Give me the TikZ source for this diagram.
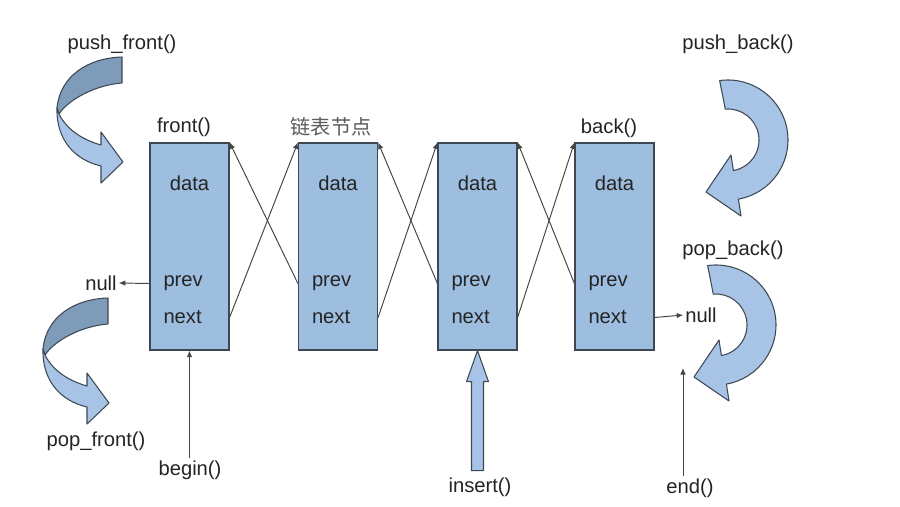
\documentclass[tikz,border=0pt]{standalone}
\usepackage{fontspec}
\setmainfont{Liberation Sans}
\newfontfamily\cjkfont{Noto Sans CJK SC}
\usepackage{tikz}
\usetikzlibrary{arrows.meta,positioning,calc}
\definecolor{cellblue}{HTML}{9EBEE0}
\definecolor{celledge}{HTML}{3E4853}
\definecolor{swooplight}{HTML}{A7C4E6}
\definecolor{swoopdark}{HTML}{7E9BB9}
\definecolor{inkgray}{HTML}{242424}
\tikzset{cell/.style={draw=celledge,line width=0.7pt,fill=cellblue,minimum width=1.58cm,minimum height=4.14cm,inner sep=0pt},
  lbl/.style={text=inkgray,font=\fontsize{11.5}{13}\selectfont,inner sep=1pt},
  ptr/.style={-{Latex[length=1.3mm,width=1.1mm]},draw=inkgray!85,line width=0.55pt},
  swoop/.style={draw=celledge,line width=0.6pt,line join=round}}

\begin{document}
\begin{tikzpicture}[x=0.02cm,y=-0.02cm]
\path[use as bounding box,fill=white] (0,0) rectangle (900,507);
% list nodes
\foreach \i/\cx in {1/189.5,2/338,3/477.5,4/614.5} {
 \node[cell] (b\i) at (\cx,246.5) {};
 \node[lbl] (d\i) at (\cx,183) {data};
 \node[lbl,anchor=west] (p\i) at ($(b\i.west)+(12,37)$) {prev};
 \node[lbl,anchor=west] (n\i) at ($(b\i.west)+(12,71)$) {next};}
\foreach \i/\j in {1/2,2/3,3/4} {
 \draw[ptr] (b\i.east |- n\i) -- (b\j.north west);
 \draw[ptr] (b\j.west |- p\j) -- (b\i.north east);}
\node[lbl] (front) at (184,127) {front()};
\node[lbl,font=\cjkfont\fontsize{11.5}{13}\selectfont,text=inkgray!75] (cellname) at (331,127) {链表节点};
\node[lbl] (back) at (609,128) {back()};
% ends
\node[lbl] (nullL) at (101,283) {null};
\node[lbl] (nullR) at (701,315) {null};
\draw[ptr] (b1.west |- p1) -- (nullL.east);
\draw[ptr] (b4.east |- n4) -- (nullR.west);
\node[lbl] (begin) at (190,470) {begin()};
\draw[ptr] (b1.south |- begin.north) -- (b1.south);
\node[lbl] (end) at (690,488) {end()};
\coordinate (endtip) at (683,368);
\draw[ptr] (endtip |- end.north) -- (endtip);
\node[lbl] (insert) at (480,487) {insert()};
\draw[swoop,fill=swooplight] (b3.south) -- ++(11,31) -- ++(-5,0) -- ++(0,89)
  -- ++(-12,0) -- ++(0,-89) -- ++(-5,0) -- cycle;
% front side
\node[lbl] (pushf) at (122,44) {push\_front()};
\node[lbl] (popf) at (96,441) {pop\_front()};
\foreach \dx/\dy in {0/0,-14/241} {
 \begin{scope}[shift={(\dx,\dy)}]
 \draw[swoop,fill=swoopdark] (122,57) .. controls (88,58) and (60,76) .. (57,108)
   -- (59,114) .. controls (68,100) and (95,85) .. (122,83) -- cycle;
 \draw[swoop,fill=swooplight] (57,108) .. controls (56,140) and (75,160) .. (101,166)
   -- (101,183) -- (123,162) -- (101,132) -- (101,145)
   .. controls (80,139) and (66,128) .. (59,114) -- cycle;
 \end{scope}}
% back side
\node[lbl] (pushb) at (738,44) {push\_back()};
\node[lbl] (popb) at (733,250) {pop\_back()};
\foreach \dx/\dy in {0/0,-12/185} {
 \begin{scope}[shift={(\dx,\dy)}]
 \draw[swoop,fill=swooplight] ($(728,140)+(-98:60)$) arc[start angle=-98,end angle=80,radius=60]
   -- (741,216) -- (706,192) -- (731,155) -- ($(728,140)+(80:31)$)
   arc[start angle=80,end angle=-95,radius=31] -- cycle;
 \end{scope}}
\end{tikzpicture}
\end{document}
